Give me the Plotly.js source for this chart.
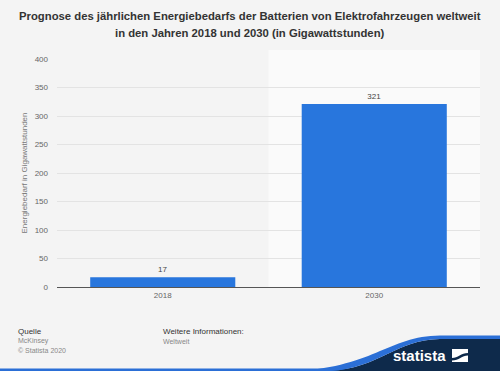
<!DOCTYPE html>
<html><head><meta charset="utf-8">
<script src="https://cdn.plot.ly/plotly-3.0.1.min.js"></script>
<style>html,body{margin:0;padding:0;background:#f4f4f4;}#chart{width:500px;height:371px;}</style>
</head><body><div id="chart"></div>
<script>
const categories = ["2018", "2030"];
const values = [17, 321];
const yTicks = [0, 50, 100, 150, 200, 250, 300, 350, 400];
const titleLines = [
  "Prognose des jährlichen Energiebedarfs der Batterien von Elektrofahrzeugen weltweit",
  "in den Jahren 2018 und 2030 (in Gigawattstunden)"
];

const W = 500, H = 371, ML = 57, MR = 20, MT = 59, MB = 84;
const PW = W - ML - MR, PH = H - MT - MB;
const px = x => (x - ML) / PW;
const py = y => (H - MB - y) / PH;

const font = "Liberation Sans, Arial, sans-serif";

const trace = {
  type: "bar", x: categories, y: values,
  marker: {color: "#2876dd"},
  text: values.map(String), textposition: "outside",
  textfont: {family: font, size: 8, color: "#444"},
  cliponaxis: false, hoverinfo: "none"
};

function P(x, y) { return px(x).toFixed(4) + "," + py(y).toFixed(4); }

const navyPath = "M" + P(330, 371) + " C" + P(380, 368) + " " + P(395, 340) + " " + P(440, 339) +
  " L" + P(500, 339) + " L" + P(500, 371) + " Z";
const bluePath = "M" + P(290, 371) + " C" + P(372, 369) + " " + P(388, 336) + " " + P(440, 335.5) +
  " L" + P(500, 335.5) + " L" + P(500, 339) + " L" + P(440, 339) + " C" + P(395, 340) + " " + P(380, 368) + " " + P(330, 371) + " Z";

const layout = {
  width: W, height: H,
  margin: {l: ML, r: MR, t: MT, b: MB},
  paper_bgcolor: "#f4f4f4", plot_bgcolor: "rgba(0,0,0,0)",
  showlegend: false, bargap: 0.314,
  xaxis: {
    type: "category", showgrid: false, zeroline: false,
    showline: true, linecolor: "#555", linewidth: 1,
    ticks: "", tickfont: {family: font, size: 8, color: "#666"}, ticklen: 0
  },
  yaxis: {
    range: [0, 400], tickvals: yTicks, ticktext: yTicks.map(String),
    showgrid: true, gridcolor: "#e3e3e3", gridwidth: 1, zeroline: false,
    tickfont: {family: font, size: 8, color: "#666"}, ticks: "", ticklabelstandoff: 8,
    title: {text: "Energiebedarf in Gigawattstunden", font: {family: font, size: 8, color: "#777"}, standoff: 5}
  },
  shapes: [
    {type: "rect", xref: "paper", yref: "paper", x0: 0.5, x1: 1, y0: 0, y1: 1.04, fillcolor: "#fafafa", line: {width: 0}, layer: "below"},
    {type: "rect", xref: "paper", yref: "paper", x0: px(0), x1: px(500), y0: py(371), y1: py(368.5), fillcolor: "#2b6fd6", line: {width: 0}},
    {type: "path", xref: "paper", yref: "paper", path: navyPath, fillcolor: "#0e2a4b", line: {width: 0}},
    {type: "path", xref: "paper", yref: "paper", path: bluePath, fillcolor: "#2b6fd6", line: {width: 0}},
    {type: "path", xref: "paper", yref: "paper", path: "M" + P(452, 362) + " L" + P(452, 349) + " L" + P(468, 349) + " L" + P(468, 362) + " Z", fillcolor: "#ffffff", line: {width: 0}},
    {type: "path", xref: "paper", yref: "paper", path: "M" + P(452, 358) + " C" + P(458, 358) + " " + P(461, 353) + " " + P(468, 353) + " L" + P(468, 355.5) + " C" + P(462, 355.5) + " " + P(459, 360.5) + " " + P(452, 360.5) + " Z", fillcolor: "#0e2a4b", line: {width: 0}}
  ],
  annotations: [
    {xref: "paper", yref: "paper", x: px(250), y: py(16), xanchor: "center", yanchor: "middle", text: "<b>" + titleLines[0] + "</b>", showarrow: false, font: {family: font, size: 11.3, color: "#333"}},
    {xref: "paper", yref: "paper", x: px(250), y: py(33), xanchor: "center", yanchor: "middle", text: "<b>" + titleLines[1] + "</b>", showarrow: false, font: {family: font, size: 11.3, color: "#333"}},
    {xref: "paper", yref: "paper", x: px(16), y: py(331.5), xanchor: "left", yanchor: "middle", text: "Quelle", showarrow: false, font: {family: font, size: 8, color: "#333"}},
    {xref: "paper", yref: "paper", x: px(16), y: py(341), xanchor: "left", yanchor: "middle", text: "McKinsey", showarrow: false, font: {family: font, size: 7, color: "#888"}},
    {xref: "paper", yref: "paper", x: px(16), y: py(350), xanchor: "left", yanchor: "middle", text: "© Statista 2020", showarrow: false, font: {family: font, size: 7, color: "#888"}},
    {xref: "paper", yref: "paper", x: px(161), y: py(331.5), xanchor: "left", yanchor: "middle", text: "Weitere Informationen:", showarrow: false, font: {family: font, size: 8, color: "#333"}},
    {xref: "paper", yref: "paper", x: px(161), y: py(341), xanchor: "left", yanchor: "middle", text: "Weltweit", showarrow: false, font: {family: font, size: 7, color: "#888"}},
    {xref: "paper", yref: "paper", x: px(448), y: py(355), xanchor: "right", yanchor: "middle", text: "<b>statista</b>", showarrow: false, font: {family: font, size: 15, color: "#ffffff"}}
  ]
};

Plotly.newPlot("chart", [trace], layout, {displayModeBar: false, staticPlot: true});
</script></body></html>
